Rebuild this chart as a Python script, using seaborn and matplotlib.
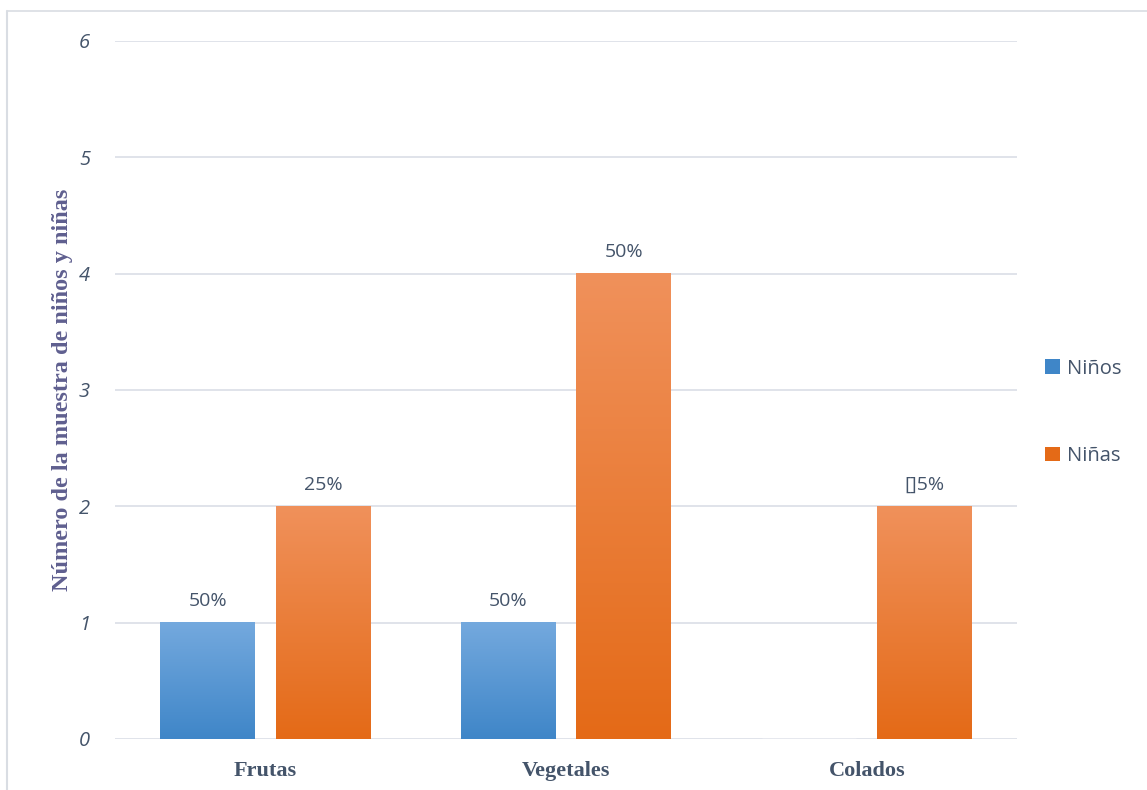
import numpy as np
import pandas as pd
import matplotlib
matplotlib.use("Agg")
import matplotlib.pyplot as plt
from matplotlib.colors import LinearSegmentedColormap
from matplotlib.lines import Line2D
from matplotlib.patches import Patch
import seaborn as sns

# Data
categorias = ["Frutas", "Vegetales", "Colados"]
ninos = [1, 1, 0]
ninas = [2, 4, 2]
etiquetas_ninos = ["50%", "50%", ""]
etiquetas_ninas = ["25%", "50%", "[]5%"]
y_ticks = [0, 1, 2, 3, 4, 5, 6]
series = ["Niños", "Niñas"]

df = pd.DataFrame({
    "Categoria": categorias * 2,
    "Valor": ninos + ninas,
    "Serie": [series[0]] * 3 + [series[1]] * 3,
    "Etiqueta": etiquetas_ninos + etiquetas_ninas,
})

sns.set_theme(style="white")
plt.rcParams["font.family"] = ["Open Sans", "DejaVu Sans"]

text_color = "#44546a"
grid_color = "#dde1e8"
base_colors = {"Niños": "#5b9bd5", "Niñas": "#ed7d31"}
gradients = {
    "Niños": ("#74a9de", "#3f86c8"),
    "Niñas": ("#f0915b", "#e46a17"),
}

fig = plt.figure(figsize=(11.47, 7.90), dpi=100)
ax = fig.add_axes([0.1003, 0.0646, 0.7864, 0.8836])

sns.barplot(data=df, x="Categoria", y="Valor", hue="Serie", order=categorias,
            hue_order=series, palette=base_colors, width=0.767, gap=0.18,
            legend=False, ax=ax, saturation=1)

ax.set_ylim(0, 6)
ax.set_xlim(-0.5, 2.5)
ax.set_yticks(y_ticks)
ax.yaxis.grid(True, color=grid_color, linewidth=1.3)
ax.set_axisbelow(True)
for s in ax.spines.values():
    s.set_visible(False)
ax.tick_params(axis="both", length=0)
ax.tick_params(axis="y", pad=18)
ax.tick_params(axis="x", pad=16)

for lbl in ax.get_yticklabels():
    lbl.set_fontstyle("italic")
    lbl.set_fontsize(14.5)
    lbl.set_color(text_color)
for lbl in ax.get_xticklabels():
    lbl.set_family("Liberation Serif")
    lbl.set_fontweight("bold")
    lbl.set_fontsize(16)
    lbl.set_color(text_color)

ax.set_xlabel("")
ax.set_ylabel("Número de la muestra de niños y niñas", family="Liberation Serif",
              fontweight="bold", fontsize=17.5, color="#5f5f8f", labelpad=4)

# Vertical gradient fill on each bar, plus value labels
grad = np.linspace(0, 1, 256).reshape(-1, 1)
for container, serie in zip(ax.containers, series):
    cmap = LinearSegmentedColormap.from_list(serie, [gradients[serie][1], gradients[serie][0]])
    labels = df[df["Serie"] == serie]["Etiqueta"].tolist()
    for patch, lab in zip(container.patches, labels):
        x0, y0 = patch.get_x(), patch.get_y()
        w, h = patch.get_width(), patch.get_height()
        if h <= 0:
            continue
        patch.set_alpha(0)
        ax.imshow(grad, cmap=cmap, origin="lower", aspect="auto",
                  extent=[x0, x0 + w, y0, y0 + h], zorder=2)
        if lab:
            ax.annotate(lab, (x0 + w / 2, y0 + h), xytext=(0, 9),
                        textcoords="offset points", ha="center", va="bottom",
                        fontsize=14, color=text_color)
ax.set_xlim(-0.5, 2.5)
ax.set_ylim(0, 6)

# Legend at the right
handles = [Patch(facecolor=gradients[s][1], edgecolor="none") for s in series]
fig.legend(handles, series, loc="center left", bbox_to_anchor=(0.895, 0.478),
           frameon=False, handlelength=0.75, handleheight=0.75, handletextpad=0.35,
           labelspacing=3.35, prop={"family": "Open Sans", "size": 14.5},
           labelcolor=text_color)

# Chart frame (top and left edges)
fig.add_artist(Line2D([0.0061, 1.0], [0.986, 0.986], transform=fig.transFigure,
                      color="#d9dde3", linewidth=1.2))
fig.add_artist(Line2D([0.0061, 0.0061], [0.0, 0.986], transform=fig.transFigure,
                      color="#d9dde3", linewidth=1.5))

fig.savefig("out.png", dpi=100)
